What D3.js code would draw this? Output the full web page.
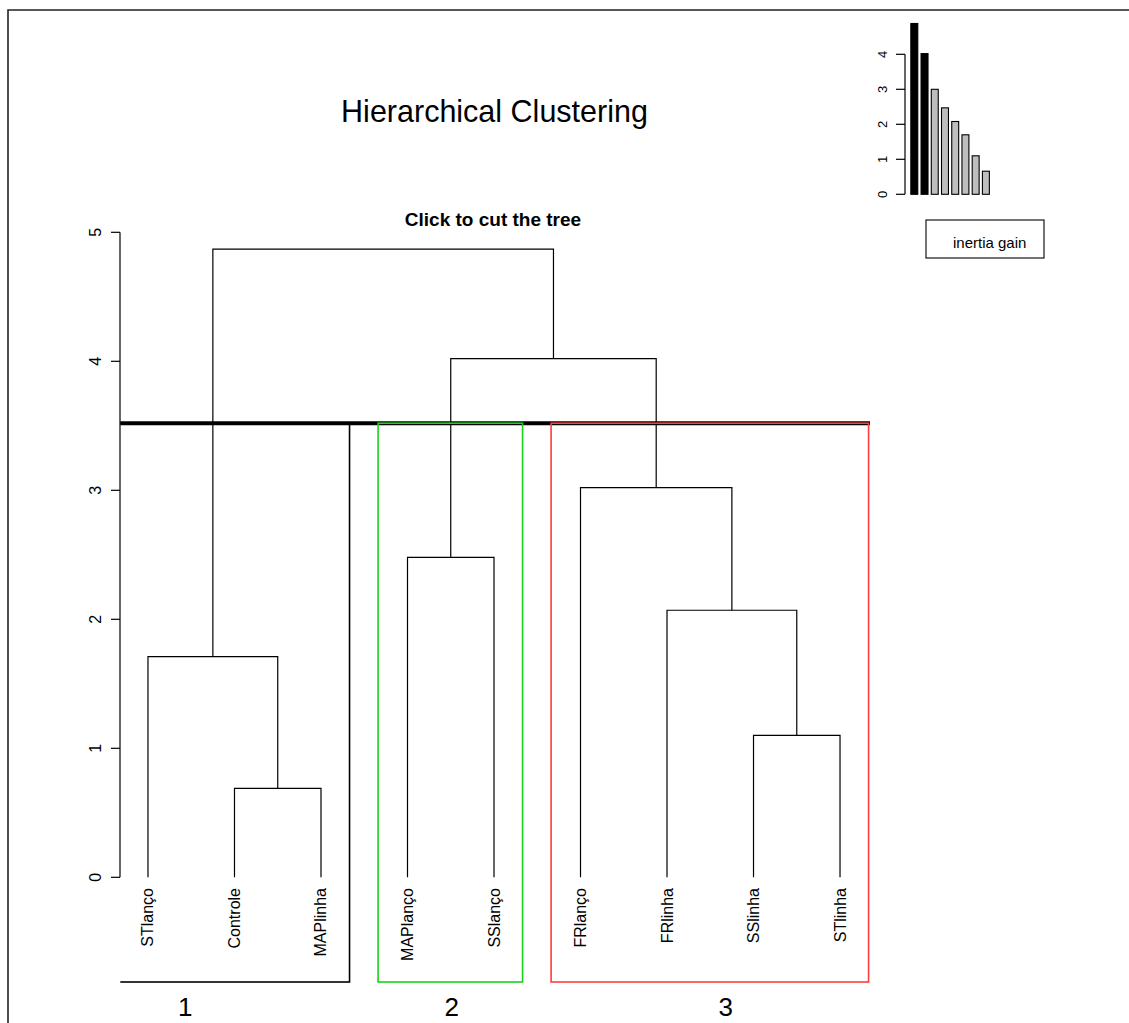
<!DOCTYPE html>
<html>
<head>
<meta charset="utf-8">
<script src="https://cdn.jsdelivr.net/npm/d3@7"></script>
<style>
html,body{margin:0;padding:0;background:#fff;}
svg{display:block;}
text{font-family:"Liberation Sans",Arial,sans-serif;}
</style>
</head>
<body>
<script>
// ---- data ----
const leaves = ["STlanço","Controle","MAPlinha","MAPlanço","SSlanço","FRlanço","FRlinha","SSlinha","STlinha"];
// R hclust-style merges: negative = leaf (1-based), positive = earlier merge
const mergeLeft   = [-2, -8, -1, -7, -4, -6, 5, 3];
const mergeRight  = [-3, -9,  1,  2, -5,  4, 6, 7];
const mergeHeight = [0.69, 1.10, 1.71, 2.07, 2.48, 3.02, 4.02, 4.87];
const clusterOfLeaf = [1,1,1,2,2,3,3,3,3];
const clusterNames = ["1","2","3"];
const clusterColors = ["#000000","#19d219","#ff3b3b"];
const inertiaGain = [4.88, 4.02, 3.00, 2.47, 2.08, 1.70, 1.10, 0.66];
const yTicks = [0,1,2,3,4,5];
const gainTicks = [0,1,2,3,4];
const nClust = 3;
const title = "Hierarchical Clustering";
const subtitle = "Click to cut the tree";
const legendLabel = "inertia gain";

const W = 1129, H = 1023;
const svg = d3.select("body").append("svg").attr("width", W).attr("height", H);

// outer frame
svg.append("path").attr("d", `M8,${H} L8,10 L${W},10`).attr("fill","none")
  .attr("stroke","#222").attr("stroke-width",1.6);

// ---- scales ----
const n = leaves.length;
const x = d3.scaleLinear().domain([1 - 0.04*(n-1), n + 0.04*(n-1)]).range([120.3, 867.7]);
const y = d3.scaleLinear().domain([0,5]).range([877.3, 232.3]);
const yBottom = y.invert(982);

// ---- compute merge positions ----
const mergeX = [];
function posX(i){ return i < 0 ? (-i) : mergeX[i-1]; }
function posH(i){ return i < 0 ? 0 : mergeHeight[i-1]; }
mergeLeft.forEach((l,k)=>{ mergeX.push((posX(l)+posX(mergeRight[k]))/2); });

// ---- titles ----
svg.append("text").attr("x", 494.5).attr("y", 122).attr("text-anchor","middle")
  .attr("font-size", 30.5).attr("fill","#000").text(title);
svg.append("text").attr("x", 493).attr("y", 226).attr("text-anchor","middle")
  .attr("font-size", 19).attr("font-weight","bold").attr("fill","#000").text(subtitle);

// ---- y axis ----
const yAxis = svg.append("g");
yAxis.append("line").attr("x1",120).attr("x2",120).attr("y1",y(0)).attr("y2",y(5))
  .attr("stroke","#000").attr("stroke-width",1.2);
yTicks.forEach(t=>{
  yAxis.append("line").attr("x1",111).attr("x2",120).attr("y1",y(t)).attr("y2",y(t))
    .attr("stroke","#000").attr("stroke-width",1.2);
  yAxis.append("text").attr("transform",`translate(95,${y(t)}) rotate(-90)`)
    .attr("text-anchor","middle").attr("dominant-baseline","central")
    .attr("font-size",16).text(t);
});

// ---- dendrogram ----
const dg = svg.append("g").attr("stroke","#000").attr("stroke-width",1.2).attr("fill","none");
mergeLeft.forEach((l,k)=>{
  const r = mergeRight[k], h = mergeHeight[k];
  const xl = x(posX(l)), xr = x(posX(r)), yh = y(h);
  dg.append("path").attr("d",
    `M${xl},${y(posH(l))} L${xl},${yh} L${xr},${yh} L${xr},${y(posH(r))}`);
});

// leaf labels
leaves.forEach((lab,i)=>{
  svg.append("text").attr("transform",`translate(${x(i+1)},888) rotate(-90)`)
    .attr("text-anchor","end").attr("dominant-baseline","central")
    .attr("font-size",16).text(lab);
});

// ---- cut line and cluster rectangles ----
const sortedH = mergeHeight.slice().sort((a,b)=>b-a);
const cutH = (sortedH[nClust-2] + sortedH[nClust-1]) / 2;
svg.append("defs").append("clipPath").attr("id","plotclip").append("rect")
  .attr("x",120.3).attr("y",0).attr("width",W).attr("height",H);

svg.append("line").attr("x1",x.range()[0]).attr("x2",870).attr("y1",y(cutH)).attr("y2",y(cutH))
  .attr("stroke","#000").attr("stroke-width",4);

const rg = svg.append("g").attr("clip-path","url(#plotclip)").attr("fill","none");
clusterNames.forEach((c,ci)=>{
  const idx = clusterOfLeaf.map((v,i)=>v===ci+1?i+1:null).filter(v=>v!==null);
  const first = d3.min(idx), last = d3.max(idx);
  const x0 = x(first - 1 + 0.66), x1 = x(last + 0.33);
  rg.append("rect").attr("x",x0).attr("y",y(cutH)).attr("width",x1-x0)
    .attr("height",y(yBottom)-y(cutH))
    .attr("stroke",clusterColors[ci]).attr("stroke-width",1.6);
});

// cluster numbers
const clusterLabelAt = [1.43, 4.51, 7.68];
clusterNames.forEach((c,ci)=>{
  svg.append("text").attr("x",x(clusterLabelAt[ci])).attr("y",1016)
    .attr("text-anchor","middle").attr("font-family","'Liberation Serif','Times New Roman',serif")
    .attr("font-size",26).text(c);
});

// ---- inertia gain inset ----
const gy = d3.scaleLinear().domain([0,4]).range([194.3, 54.3]);
const gx = d3.scaleBand().domain(d3.range(inertiaGain.length)).range([909.2, 991]).paddingInner(0.32).paddingOuter(0.16);
const ig = svg.append("g");
ig.append("line").attr("x1",905).attr("x2",905).attr("y1",gy(0)).attr("y2",gy(4))
  .attr("stroke","#000").attr("stroke-width",1.2);
gainTicks.forEach(t=>{
  ig.append("line").attr("x1",896).attr("x2",905).attr("y1",gy(t)).attr("y2",gy(t))
    .attr("stroke","#000").attr("stroke-width",1.2);
  ig.append("text").attr("transform",`translate(882,${gy(t)}) rotate(-90)`)
    .attr("text-anchor","middle").attr("dominant-baseline","central")
    .attr("font-size",13).text(t);
});
inertiaGain.forEach((v,i)=>{
  ig.append("rect").attr("x",gx(i)).attr("width",gx.bandwidth())
    .attr("y",gy(v)).attr("height",gy(0)-gy(v))
    .attr("fill", i < nClust-1 ? "#000" : "#bebebe")
    .attr("stroke","#000").attr("stroke-width",1.1);
});
// legend
svg.append("rect").attr("x",926).attr("y",220).attr("width",118).attr("height",38)
  .attr("fill","#fff").attr("stroke","#000").attr("stroke-width",1.1);
svg.append("text").attr("x",953).attr("y",248).attr("font-size",15).text(legendLabel);
</script>
</body>
</html>
